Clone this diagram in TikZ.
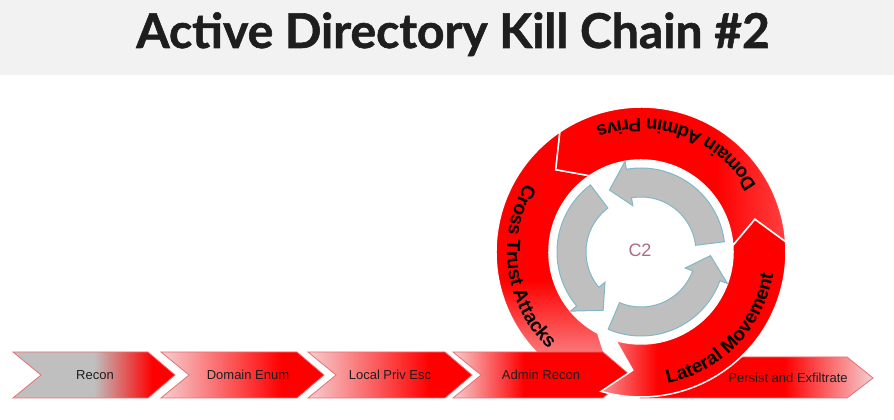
\documentclass[tikz,border=0pt]{standalone}
\usepackage{fontspec}
\setmainfont{Liberation Sans}
\newfontfamily\titlefont[BoldFeatures={FakeBold=1.2}]{Lato}
\usetikzlibrary{decorations.text}

\definecolor{kcred}{RGB}{255,0,0}
\definecolor{kcpink}{RGB}{246,206,209}
\definecolor{kcgray}{RGB}{191,191,191}
\definecolor{kcedge}{RGB}{232,112,118}
\definecolor{kcteal}{RGB}{128,184,200}
\definecolor{kcband}{RGB}{242,242,242}
\definecolor{kcmauve}{RGB}{176,104,138}
\definecolor{kctext}{RGB}{30,30,30}

\pgfdeclarehorizontalshading{recongrad}{100bp}{color(0bp)=(kcgray); color(50bp)=(kcgray); color(68bp)=(kcred); color(100bp)=(kcred)}
\pgfdeclarehorizontalshading{enumgrad}{100bp}{color(0bp)=(kcpink); color(25bp)=(kcpink); color(62bp)=(kcred); color(100bp)=(kcred)}
\pgfdeclarehorizontalshading{admingrad}{100bp}{color(0bp)=(kcpink); color(25bp)=(kcpink); color(45bp)=(kcred); color(100bp)=(kcred)}
\pgfdeclarehorizontalshading{persistgrad}{100bp}{color(0bp)=(kcred); color(56bp)=(kcred); color(75bp)=(kcpink); color(100bp)=(kcpink)}
\pgfdeclarehorizontalshading{lateralgrad}{100bp}{color(0bp)=(kcpink!70!kcred); color(25bp)=(kcpink!70!kcred); color(40bp)=(kcred); color(100bp)=(kcred)}
\pgfdeclareverticalshading{crossgrad}{100bp}{color(0bp)=(kcpink); color(30bp)=(kcpink!60!kcred); color(45bp)=(kcred); color(100bp)=(kcred)}
\pgfdeclarehorizontalshading{domaingrad}{100bp}{color(0bp)=(kcred); color(60bp)=(kcred); color(75bp)=(kcred!75!white); color(100bp)=(kcred!75!white)}

% left x, right x of the flat part, shading
\newcommand\kcchevron[3]{%
  \path[chevron, shading=#3] (#1,68) -- (#2,68) -- ++(27,-23) -- (#2,22) -- (#1,22) -- ++(28,23) -- cycle;}
% start angle, end angle, shading
\newcommand\ringpart[3]{%
  \path[ringseg, shading=#3] (#1:145) arc[start angle=#1, end angle=#2, radius=145]
    -- ({#2+12}:118.5) -- (#2:92) arc[start angle=#2, end angle=#1, radius=92]
    -- ({#1+12}:118.5) -- cycle;}
% tail angle
\newcommand\cyclearrow[1]{%
  \path[cycarrow] (#1:84) arc[start angle=#1, end angle={#1+93}, radius=84]
    -- ({#1+93}:92) -- ({#1+110}:69.5) -- ({#1+93}:47) -- ({#1+93}:55)
    arc[start angle={#1+93}, end angle=#1, radius=55] -- cycle;}
\newcommand\ringfont{\fontsize{19}{19}\selectfont\bfseries}

\begin{document}
\begin{tikzpicture}[x=1pt, y=1pt,
  chevron/.style={shade, draw=kcedge, line width=.8pt},
  ringseg/.style={shade, draw=white, line width=1.5pt, line join=miter},
  cycarrow/.style={fill=kcgray, draw=kcteal, line width=1pt},
  steplabel/.style={font=\fontsize{13}{15}\selectfont, text=kctext},
  ringlabel/.style={decorate, decoration={text along path, text align=center, text={|\ringfont|#1}}}]
\useasboundingbox (0,0) rectangle (894,420);
\fill[white] (0,0) rectangle (894,420);
\fill[kcband] (0,345) rectangle (894,420);
\node[anchor=base, text=kctext, font=\titlefont\bfseries\fontsize{48}{48}\selectfont] (title) at (453,372) {Active Directory Kill Chain \#2};

\begin{scope}[shift={(641,168)}]
\ringpart{124}{242}{crossgrad}
\ringpart{4}{124}{domaingrad}
\end{scope}

\kcchevron{13}{148}{recongrad}
\kcchevron{161}{297}{enumgrad}
\kcchevron{308}{445}{enumgrad}
\kcchevron{453}{603}{admingrad}
\path[chevron, shading=persistgrad] (640,63) -- (847,63) -- (873,42) -- (847,22) -- (640,22) -- cycle;

\begin{scope}[shift={(641,168)}]
\ringpart{-106}{4}{lateralgrad}
\foreach \t in {7,127,247} {\cyclearrow{\t}}
\path[ringlabel=Domain Admin Privs] (0:133) arc[start angle=0, end angle=140, radius=133];
\path[ringlabel=Cross Trust Attacks] (128:134) arc[start angle=128, end angle=248, radius=134];
\path[ringlabel=Lateral Movement] (-98:134) arc[start angle=-98, end angle=10, radius=134];
\end{scope}

\path (95,45) node[steplabel] (recon) {Recon}
      (248,45) node[steplabel] (enum) {Domain Enum}
      (390,45) node[steplabel] (privesc) {Local Priv Esc}
      (541,45) node[steplabel] (adminrecon) {Admin Recon}
      (788,42) node[steplabel] (persist) {Persist and Exfiltrate}
      (640,170) node[font=\fontsize{18}{18}\selectfont, text=kcmauve] (ctwo) {C2};
\end{tikzpicture}
\end{document}
